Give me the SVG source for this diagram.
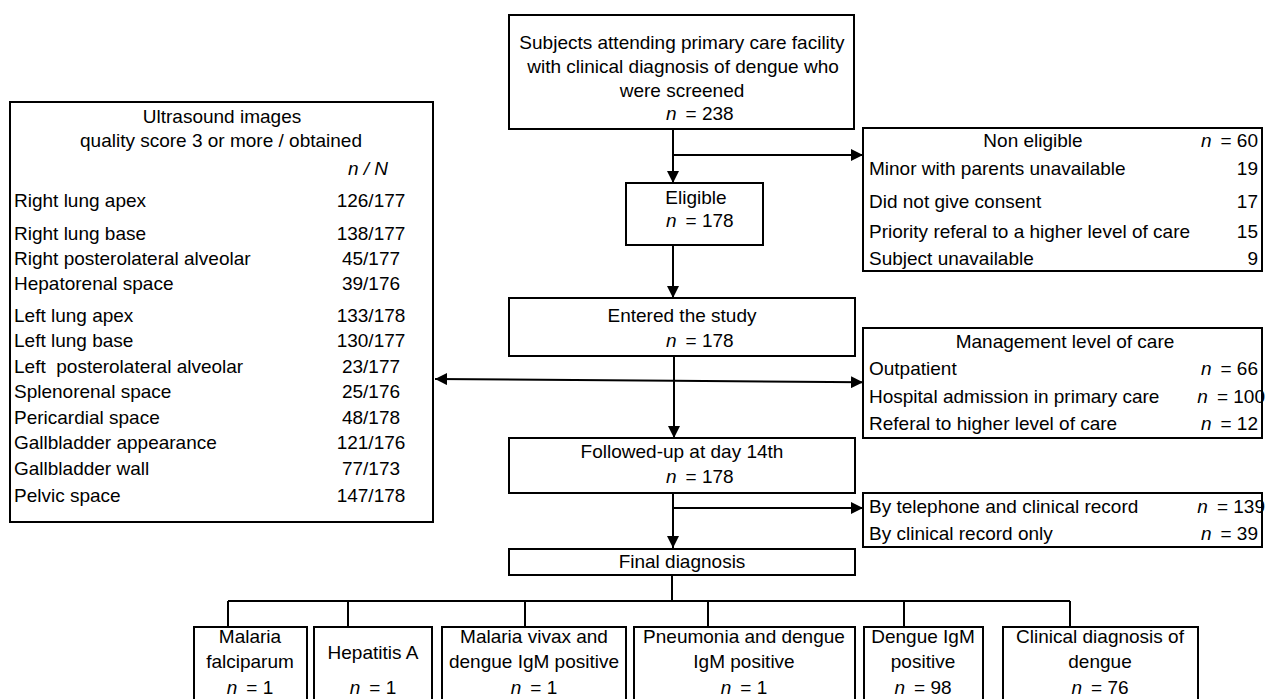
<svg xmlns="http://www.w3.org/2000/svg" width="1266" height="699" viewBox="0 0 1266 699">
<style>
text{font-family:"Liberation Sans",Arial,sans-serif;font-size:19px;fill:#000}
.c{text-anchor:middle}
.r{text-anchor:end}
.i{font-style:italic}
rect{fill:#fff;stroke:#000;stroke-width:2}
.ln{stroke:#000;stroke-width:2;fill:none}
</style>
<defs>
<marker id="ah" viewBox="0 0 10 10" refX="10" refY="5" markerWidth="12" markerHeight="12" markerUnits="userSpaceOnUse" orient="auto">
<path d="M0,0 L10,5 L0,10 z" fill="#000"/>
</marker>
</defs>
<rect width="1266" height="699" style="fill:#fff;stroke:none"/>

<g id="connectors">
<line class="ln" x1="673" y1="129" x2="673" y2="183" marker-end="url(#ah)"/>
<line class="ln" x1="673" y1="155" x2="863" y2="155" marker-end="url(#ah)"/>
<line class="ln" x1="673" y1="245" x2="673" y2="298" marker-end="url(#ah)"/>
<line class="ln" x1="674" y1="356" x2="674" y2="438" marker-end="url(#ah)"/>
<line class="ln" x1="674" y1="380.7" x2="435" y2="379" marker-end="url(#ah)"/>
<line class="ln" x1="674" y1="380.7" x2="863" y2="382.3" marker-end="url(#ah)"/>
<line class="ln" x1="673" y1="493" x2="673" y2="548" marker-end="url(#ah)"/>
<line class="ln" x1="673" y1="508" x2="863" y2="508" marker-end="url(#ah)"/>
<path class="ln" d="M672,575 V601 M228,601 H1070 M228,601 V627 M348,601 V627 M525,601 V627 M708,601 V627 M904,601 V627 M1070,601 V627"/>
</g>

<g id="screened">
<rect x="509" y="15" width="345" height="114"/>
<text class="c" x="682" y="49">Subjects attending primary care facility</text>
<text class="c" x="683" y="73">with clinical diagnosis of dengue who</text>
<text class="c" x="682" y="97">were screened</text>
<text x="666" y="120"><tspan class="i">n</tspan><tspan dx="9">= 238</tspan></text>
</g>

<g id="eligible">
<rect x="626" y="183" width="137" height="62"/>
<text class="c" x="696" y="204">Eligible</text>
<text x="666" y="227"><tspan class="i">n</tspan><tspan dx="9">= 178</tspan></text>
</g>

<g id="noneligible">
<rect x="863" y="128" width="399" height="143"/>
<text class="c" x="1033" y="147">Non eligible</text>
<text class="r" x="1258" y="147"><tspan class="i">n</tspan><tspan dx="9">= 60</tspan></text>
<text x="869" y="175">Minor with parents unavailable</text>
<text class="r" x="1258" y="175">19</text>
<text x="869" y="208">Did not give consent</text>
<text class="r" x="1258" y="208">17</text>
<text x="869" y="238">Priority referal to a higher level of care</text>
<text class="r" x="1258" y="238">15</text>
<text x="869" y="265">Subject unavailable</text>
<text class="r" x="1258" y="265">9</text>
</g>

<g id="entered">
<rect x="509" y="298" width="346" height="58"/>
<text class="c" x="682" y="322">Entered the study</text>
<text x="666" y="347"><tspan class="i">n</tspan><tspan dx="9">= 178</tspan></text>
</g>

<g id="management">
<rect x="863" y="328" width="399" height="110"/>
<text class="c" x="1065" y="348">Management level of care</text>
<text x="869" y="375">Outpatient</text>
<text class="r" x="1258" y="375"><tspan class="i">n</tspan><tspan dx="9">= 66</tspan></text>
<text x="869" y="403">Hospital admission in primary care</text>
<text class="r" x="1265" y="403"><tspan class="i">n</tspan><tspan dx="9">= 100</tspan></text>
<text x="869" y="430">Referal to higher level of care</text>
<text class="r" x="1258" y="430"><tspan class="i">n</tspan><tspan dx="9">= 12</tspan></text>
</g>

<g id="followed">
<rect x="509" y="438" width="346" height="55"/>
<text class="c" x="682" y="458">Followed-up at day 14th</text>
<text x="666" y="483"><tspan class="i">n</tspan><tspan dx="9">= 178</tspan></text>
</g>

<g id="method">
<rect x="863" y="493" width="399" height="54"/>
<text x="869" y="513">By telephone and clinical record</text>
<text class="r" x="1265" y="513"><tspan class="i">n</tspan><tspan dx="9">= 139</tspan></text>
<text x="869" y="540">By clinical record only</text>
<text class="r" x="1258" y="540"><tspan class="i">n</tspan><tspan dx="9">= 39</tspan></text>
</g>

<g id="ultrasound">
<rect x="10" y="102" width="423" height="420"/>
<text class="c" x="222" y="123">Ultrasound images</text>
<text class="c" x="221" y="147">quality score 3 or more / obtained</text>
<text class="c i" x="368" y="175">n / N</text>
<text x="14" y="207">Right lung apex</text><text class="c" x="371" y="207">126/177</text>
<text x="14" y="240">Right lung base</text><text class="c" x="371" y="240">138/177</text>
<text x="14" y="265">Right posterolateral alveolar</text><text class="c" x="371" y="265">45/177</text>
<text x="14" y="290">Hepatorenal space</text><text class="c" x="371" y="290">39/176</text>
<text x="14" y="322">Left lung apex</text><text class="c" x="371" y="322">133/178</text>
<text x="14" y="347">Left lung base</text><text class="c" x="371" y="347">130/177</text>
<text x="14" y="373" xml:space="preserve">Left  posterolateral alveolar</text><text class="c" x="371" y="373">23/177</text>
<text x="14" y="398">Splenorenal space</text><text class="c" x="371" y="398">25/176</text>
<text x="14" y="424">Pericardial space</text><text class="c" x="371" y="424">48/178</text>
<text x="14" y="449">Gallbladder appearance</text><text class="c" x="371" y="449">121/176</text>
<text x="14" y="475">Gallbladder wall</text><text class="c" x="371" y="475">77/173</text>
<text x="14" y="502">Pelvic space</text><text class="c" x="371" y="502">147/178</text>
</g>

<g id="final">
<rect x="509" y="549" width="346" height="26"/>
<text class="c" x="682" y="568">Final diagnosis</text>
</g>

<g id="dx1">
<rect x="194" y="627" width="113" height="90"/>
<text class="c" x="250" y="643">Malaria</text>
<text class="c" x="250" y="668">falciparum</text>
<text class="c" x="250" y="694"><tspan class="i">n</tspan><tspan dx="9">= 1</tspan></text>
</g>
<g id="dx2">
<rect x="314" y="627" width="118" height="90"/>
<text class="c" x="373" y="659">Hepatitis A</text>
<text class="c" x="373" y="694"><tspan class="i">n</tspan><tspan dx="9">= 1</tspan></text>
</g>
<g id="dx3">
<rect x="442" y="627" width="184" height="90"/>
<text class="c" x="534" y="643">Malaria vivax and</text>
<text class="c" x="534" y="668">dengue IgM positive</text>
<text class="c" x="534" y="694"><tspan class="i">n</tspan><tspan dx="9">= 1</tspan></text>
</g>
<g id="dx4">
<rect x="634" y="627" width="221" height="90"/>
<text class="c" x="744" y="643">Pneumonia and dengue</text>
<text class="c" x="744" y="668">IgM positive</text>
<text class="c" x="744" y="694"><tspan class="i">n</tspan><tspan dx="9">= 1</tspan></text>
</g>
<g id="dx5">
<rect x="864" y="627" width="119" height="90"/>
<text class="c" x="923" y="643">Dengue IgM</text>
<text class="c" x="923" y="668">positive</text>
<text class="c" x="923" y="694"><tspan class="i">n</tspan><tspan dx="9">= 98</tspan></text>
</g>
<g id="dx6">
<rect x="1003" y="627" width="195" height="90"/>
<text class="c" x="1100" y="643">Clinical diagnosis of</text>
<text class="c" x="1100" y="668">dengue</text>
<text class="c" x="1100" y="694"><tspan class="i">n</tspan><tspan dx="9">= 76</tspan></text>
</g>
</svg>
